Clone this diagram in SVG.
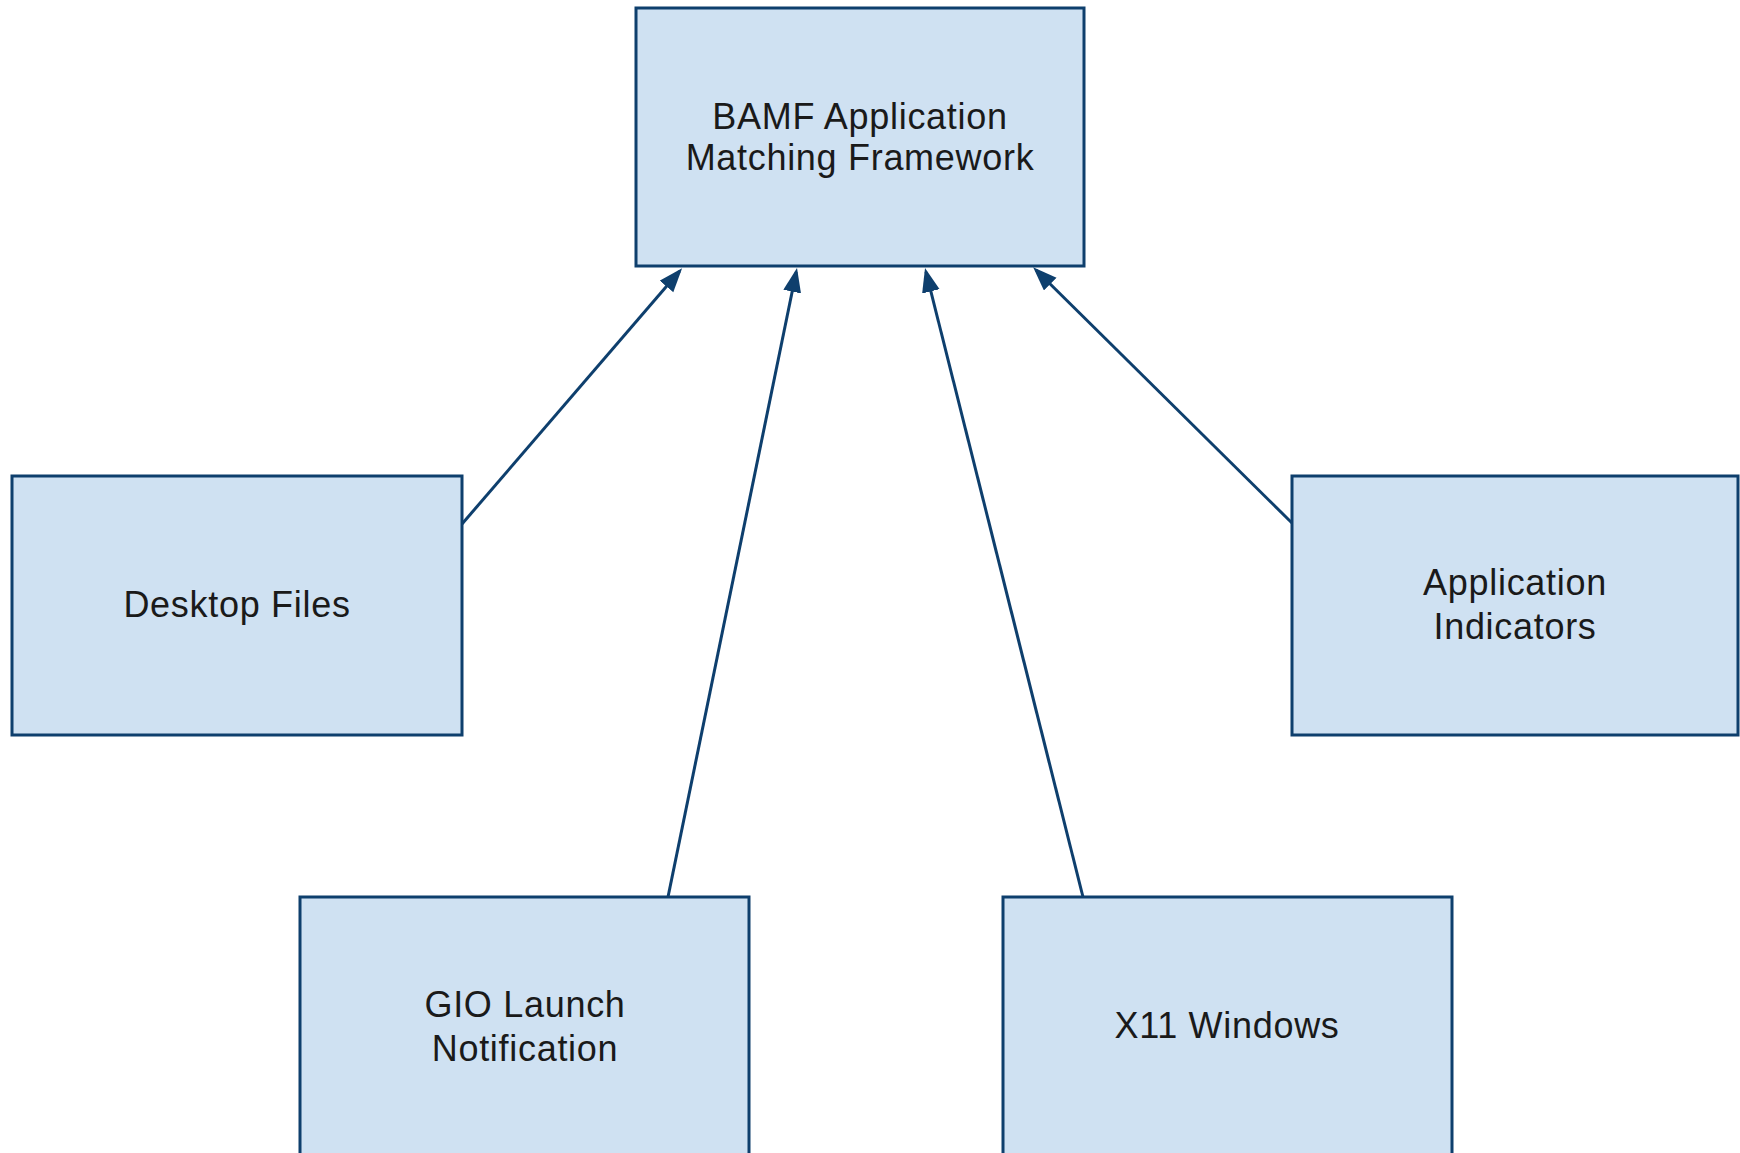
<svg xmlns="http://www.w3.org/2000/svg" width="1740" height="1153" viewBox="0 0 1740 1153">
<style>
.box{fill:#cfe1f2;stroke:#0e3f6d;stroke-width:3}
.lbl{font-family:"Liberation Sans",Arial,sans-serif;font-size:36px;letter-spacing:0.7px;fill:#1a1a1a;text-anchor:middle}
.conn{fill:none;stroke:#0e3f6d;stroke-width:3}
</style>
<defs>
<marker id="arr" markerUnits="userSpaceOnUse" markerWidth="26" markerHeight="20" refX="20" refY="9" orient="auto">
<path d="M0,0 L24,9 L0,18 z" fill="#0e3f6d"/>
</marker>
</defs>
<rect width="1740" height="1153" fill="#ffffff"/>
<g id="connectors">
<path class="conn" d="M462,524 L679.5,271.3" marker-end="url(#arr)"/>
<path class="conn" d="M668,897 L796.2,272" marker-end="url(#arr)"/>
<path class="conn" d="M1083,897 L926,272" marker-end="url(#arr)"/>
<path class="conn" d="M1292,523 L1036,270" marker-end="url(#arr)"/>
</g>
<g id="bamf">
<rect class="box" x="636" y="8" width="448" height="258"/>
<text class="lbl" x="860" y="129">BAMF Application</text>
<text class="lbl" x="860" y="170">Matching Framework</text>
</g>
<g id="desktop-files">
<rect class="box" x="12" y="476" width="450" height="259"/>
<text class="lbl" x="237" y="617">Desktop Files</text>
</g>
<g id="app-indicators">
<rect class="box" x="1292" y="476" width="446" height="259"/>
<text class="lbl" x="1515" y="595">Application</text>
<text class="lbl" x="1515" y="639">Indicators</text>
</g>
<g id="gio-launch">
<rect class="box" x="300" y="897" width="449" height="262"/>
<text class="lbl" x="525" y="1017">GIO Launch</text>
<text class="lbl" x="525" y="1061">Notification</text>
</g>
<g id="x11-windows">
<rect class="box" x="1003" y="897" width="449" height="262"/>
<text class="lbl" x="1227" y="1038">X11 Windows</text>
</g>
</svg>
